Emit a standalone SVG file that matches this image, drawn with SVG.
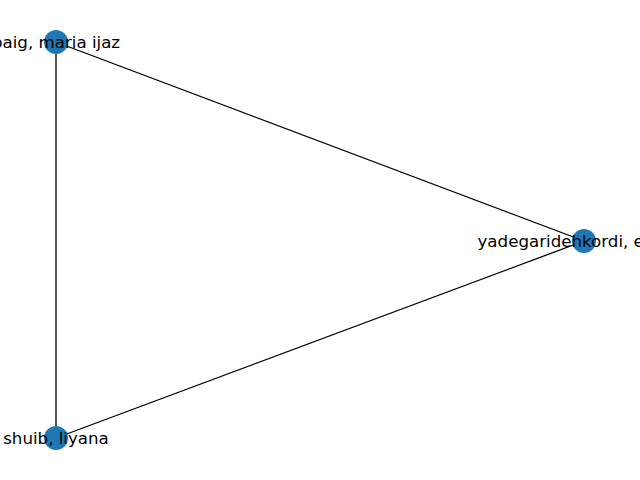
<svg xmlns="http://www.w3.org/2000/svg" width="640" height="480" viewBox="0 0 640 480">
<style>
.edge{stroke:#000;stroke-width:1.33;fill:none}
.node circle{fill:#1f77b4}
.node text{font-family:"DejaVu Sans",sans-serif;font-size:16.67px;fill:#000;dominant-baseline:central}
</style>
<rect width="640" height="480" fill="#fff"/>
<g id="edges">
<line class="edge" x1="56" y1="42" x2="584" y2="241"/>
<line class="edge" x1="56" y1="42" x2="56" y2="438"/>
<line class="edge" x1="584" y1="241" x2="56" y2="438"/>
</g>
<g id="node-baig" class="node">
<circle cx="56" cy="42" r="12"/>
<text x="56" y="42" text-anchor="middle">baig, maria ijaz</text>
</g>
<g id="node-yadegaridehkordi" class="node">
<circle cx="584" cy="241" r="12"/>
<text x="477.5" y="241" text-anchor="start">yadegaridehkordi, e</text>
</g>
<g id="node-shuib" class="node">
<circle cx="56" cy="438" r="12"/>
<text x="56" y="438" text-anchor="middle">shuib, liyana</text>
</g>
</svg>
